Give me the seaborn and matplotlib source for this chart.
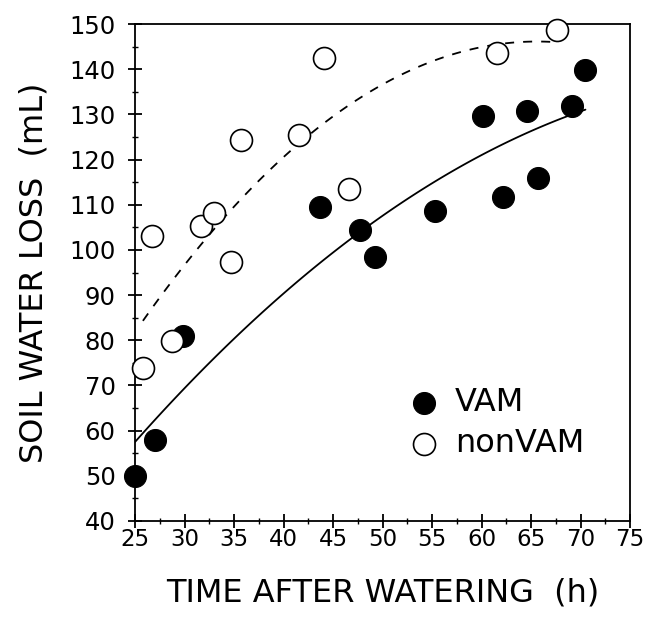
import matplotlib
matplotlib.use("Agg")
import matplotlib.pyplot as plt
import seaborn as sns
import numpy as np
import pandas as pd
from matplotlib.ticker import MultipleLocator

# --- data ---
vam_time = [25.0, 27.0, 29.8, 43.7, 47.7, 49.2, 55.3, 60.2, 62.2, 64.6, 65.7, 69.1, 70.5]
vam_loss = [50.0, 57.9, 80.9, 109.4, 104.5, 98.5, 108.7, 129.7, 111.8, 130.8, 116.0, 131.8, 139.8]

nonvam_time = [25.8, 26.7, 28.7, 31.7, 33.0, 34.7, 35.7, 41.6, 44.1, 46.6, 61.6, 67.6]
nonvam_loss = [73.9, 103.1, 79.9, 105.3, 108.2, 97.3, 124.3, 125.4, 142.4, 113.5, 143.6, 148.6]

x_ticks = [25, 30, 35, 40, 45, 50, 55, 60, 65, 70, 75]
y_ticks = [40, 50, 60, 70, 80, 90, 100, 110, 120, 130, 140, 150]

vam = pd.DataFrame({"time": vam_time, "loss": vam_loss})
nonvam = pd.DataFrame({"time": nonvam_time, "loss": nonvam_loss})

sns.set_theme(style="white")
plt.rcParams["font.family"] = ["DejaVu Sans"]

fig = plt.figure(figsize=(6.51, 6.17), dpi=100)
ax = fig.add_axes([135 / 651, 1 - 521 / 617, 495 / 651, 497 / 617])

# fitted curves
sns.regplot(data=vam, x="time", y="loss", order=2, ci=None, scatter=False,
            truncate=True, ax=ax, line_kws=dict(color="black", lw=1.3, ls="-"))
sns.regplot(data=nonvam, x="time", y="loss", order=2, ci=None, scatter=False,
            truncate=True, ax=ax, line_kws=dict(color="black", lw=1.3, ls=(0, (5, 5))))

# points
sns.scatterplot(data=vam, x="time", y="loss", ax=ax, s=250, color="black",
                edgecolor="black", linewidth=0.8, label="VAM", zorder=3, clip_on=False)
sns.scatterplot(data=nonvam, x="time", y="loss", ax=ax, s=250, facecolor="white",
                edgecolor="black", linewidth=1.2, label="nonVAM", zorder=3, clip_on=False)

ax.set_xlim(25, 75)
ax.set_ylim(40, 150)
ax.set_xticks(x_ticks)
ax.set_yticks(y_ticks)
ax.xaxis.set_minor_locator(MultipleLocator(2.5))
ax.yaxis.set_minor_locator(MultipleLocator(5))
ax.tick_params(which="major", direction="inout", length=10, width=1.3, color="black",
               labelsize=16.5, labelcolor="black", bottom=True, left=True)
ax.tick_params(which="minor", direction="inout", length=5, width=1.0, color="black",
               bottom=True, left=True)
ax.tick_params(axis="x", pad=0)
ax.tick_params(axis="y", pad=9)
ax.tick_params(axis="y", labelsize=17.5)

for sp in ax.spines.values():
    sp.set_visible(True)
    sp.set_color("black")
    sp.set_linewidth(1.3)

ax.set_xlabel("TIME AFTER WATERING  (h)", fontsize=23, color="black", labelpad=19)
ax.set_ylabel("SOIL WATER LOSS  (mL)", fontsize=23, color="black", labelpad=14)

leg = ax.legend(loc="center left", bbox_to_anchor=(0.519, 0.197), frameon=False,
                fontsize=23, handletextpad=0.47, labelspacing=0.31, borderpad=0,
                handlelength=1.0, markerscale=1.0)
for t in leg.get_texts():
    t.set_color("black")

fig.savefig("out.png", dpi=100)
